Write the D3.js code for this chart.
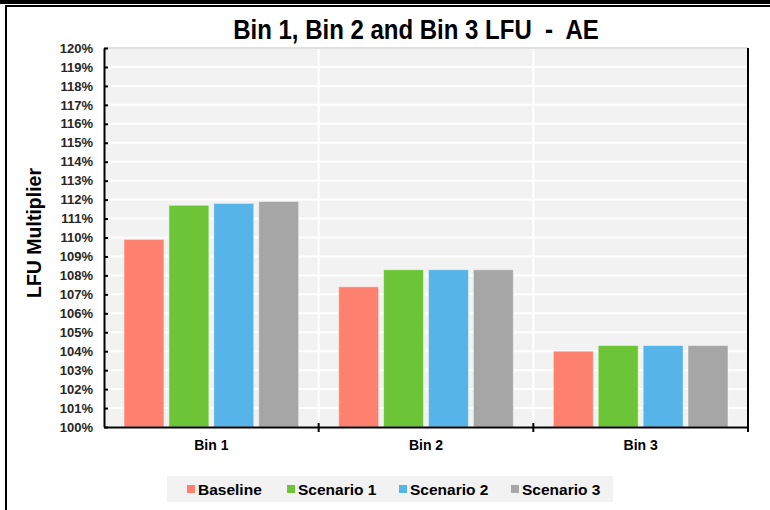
<!DOCTYPE html>
<html>
<head>
<meta charset="utf-8">
<script src="https://cdn.jsdelivr.net/npm/d3@7"></script>
<style>
  body { margin: 0; background: #fff; }
  svg { display: block; font-family: "Liberation Sans", Arial, sans-serif; }
</style>
</head>
<body>
<svg id="chart" width="770" height="510"></svg>
<script>
// chart data
var categories = ["Bin 1", "Bin 2", "Bin 3"];
var seriesNames = ["Baseline", "Scenario 1", "Scenario 2", "Scenario 3"];
var baseline  = [1.099, 1.074, 1.040];
var scenario1 = [1.117, 1.083, 1.043];
var scenario2 = [1.118, 1.083, 1.043];
var scenario3 = [1.119, 1.083, 1.043];
var yTicks = d3.range(100, 121).map(function(d) { return d / 100; });

var colors = {
  "Baseline": "#fe8170",
  "Scenario 1": "#6bc536",
  "Scenario 2": "#56b4e8",
  "Scenario 3": "#a6a6a6"
};

var table = categories.map(function(c, i) {
  return { cat: c, values: [baseline[i], scenario1[i], scenario2[i], scenario3[i]] };
});

var svg = d3.select("#chart");
var margin = { left: 104, top: 48, right: 22, bottom: 83 };
var width = 770 - margin.left - margin.right,
    height = 510 - margin.top - margin.bottom;

// frame bits
svg.append("rect").attr("x", 0).attr("y", 0).attr("width", 770).attr("height", 4).attr("fill", "#000");
svg.append("rect").attr("x", 5).attr("y", 5).attr("width", 765).attr("height", 2).attr("fill", "#000");
svg.append("rect").attr("x", 5).attr("y", 5).attr("width", 2).attr("height", 505).attr("fill", "#000");

svg.append("text")
  .attr("transform", "translate(416,39) scale(1,1.13)")
  .attr("text-anchor", "middle")
  .style("font-size", "24px").style("font-weight", "bold")
  .style("white-space", "pre")
  .text("Bin 1, Bin 2 and Bin 3 LFU  -  AE");

var g = svg.append("g").attr("transform", "translate(" + margin.left + "," + margin.top + ")");

var x0 = d3.scaleBand().domain(categories).range([0, width]).paddingInner(0).paddingOuter(0);
var x1 = d3.scaleBand().domain(seriesNames).range([20, x0.bandwidth() - 20]).paddingInner(0.11).paddingOuter(0);
var y = d3.scaleLinear().domain([1.0, 1.2]).range([height, 0]);

g.append("rect").attr("width", width).attr("height", height).attr("fill", "#f2f2f2");

// gridlines
g.append("g").selectAll("line").data(yTicks).enter().append("line")
  .attr("x1", 0).attr("x2", width)
  .attr("y1", function(d) { return y(d); }).attr("y2", function(d) { return y(d); })
  .attr("stroke", "#fff").attr("stroke-width", 2);
g.append("g").selectAll("line").data(categories.slice(1)).enter().append("line")
  .attr("x1", function(d) { return x0(d); }).attr("x2", function(d) { return x0(d); })
  .attr("y1", 0).attr("y2", height)
  .attr("stroke", "#fff").attr("stroke-width", 2);

g.append("line").attr("x1", 0).attr("x2", width).attr("y1", 0).attr("y2", 0)
  .attr("stroke", "#bfbfbf").attr("stroke-width", 1);

// bars
var groups = g.append("g").selectAll("g").data(table).enter().append("g")
  .attr("transform", function(d) { return "translate(" + x0(d.cat) + ",0)"; });
groups.selectAll("rect")
  .data(function(d) { return d.values.map(function(v, i) { return { name: seriesNames[i], value: v }; }); })
  .enter().append("rect")
  .attr("x", function(d) { return x1(d.name); })
  .attr("width", x1.bandwidth())
  .attr("y", function(d) { return y(d.value); })
  .attr("height", function(d) { return height - y(d.value); })
  .attr("fill", function(d) { return colors[d.name]; })
  .attr("stroke", "#fff").attr("stroke-opacity", 0.45).attr("stroke-width", 1);

// y axis
var yAxis = g.append("g")
  .call(d3.axisLeft(y).tickValues(yTicks).tickFormat(d3.format(".0%")).tickSizeInner(5).tickSizeOuter(0).tickPadding(6));
yAxis.select(".domain").attr("stroke", "#000").attr("stroke-width", 2);
yAxis.selectAll(".tick line").attr("x2", 4).attr("stroke", "#000").attr("stroke-width", 2);
yAxis.selectAll("text").style("font-size", "13px").style("font-weight", "bold").attr("fill", "#262626");

// right border
g.append("line").attr("x1", width).attr("x2", width).attr("y1", 0).attr("y2", height + 5)
  .attr("stroke", "#000").attr("stroke-width", 2);

// x axis
var xAxis = g.append("g").attr("transform", "translate(0," + height + ")")
  .call(d3.axisBottom(x0).tickSize(0).tickPadding(13));
xAxis.select(".domain").attr("stroke", "#000").attr("stroke-width", 2);
xAxis.selectAll("text").style("font-size", "14px").style("font-weight", "bold").attr("fill", "#000");
g.append("g").selectAll("line").data(categories.slice(1)).enter().append("line")
  .attr("x1", function(d) { return x0(d); }).attr("x2", function(d) { return x0(d); })
  .attr("y1", height - 4).attr("y2", height + 5)
  .attr("stroke", "#000").attr("stroke-width", 2);

// y label
svg.append("text")
  .attr("transform", "translate(41," + 233 + ") rotate(-90)")
  .attr("text-anchor", "middle")
  .style("font-size", "19.5px").style("font-weight", "bold")
  .text("LFU Multiplier");

// legend
var legend = svg.append("g");
legend.append("rect").attr("x", 167).attr("y", 476).attr("width", 446).attr("height", 26).attr("fill", "#f2f2f2");
var legendX = [187, 287, 399, 511];
var items = legend.selectAll("g").data(seriesNames).enter().append("g")
  .attr("transform", function(d, i) { return "translate(" + legendX[i] + ",0)"; });
items.append("rect").attr("x", 0).attr("y", 485).attr("width", 8).attr("height", 8)
  .attr("fill", function(d) { return colors[d]; });
items.append("text").attr("x", 11).attr("y", 495)
  .style("font-size", "15.5px").style("font-weight", "bold")
  .text(function(d) { return d; });
</script>
</body>
</html>
